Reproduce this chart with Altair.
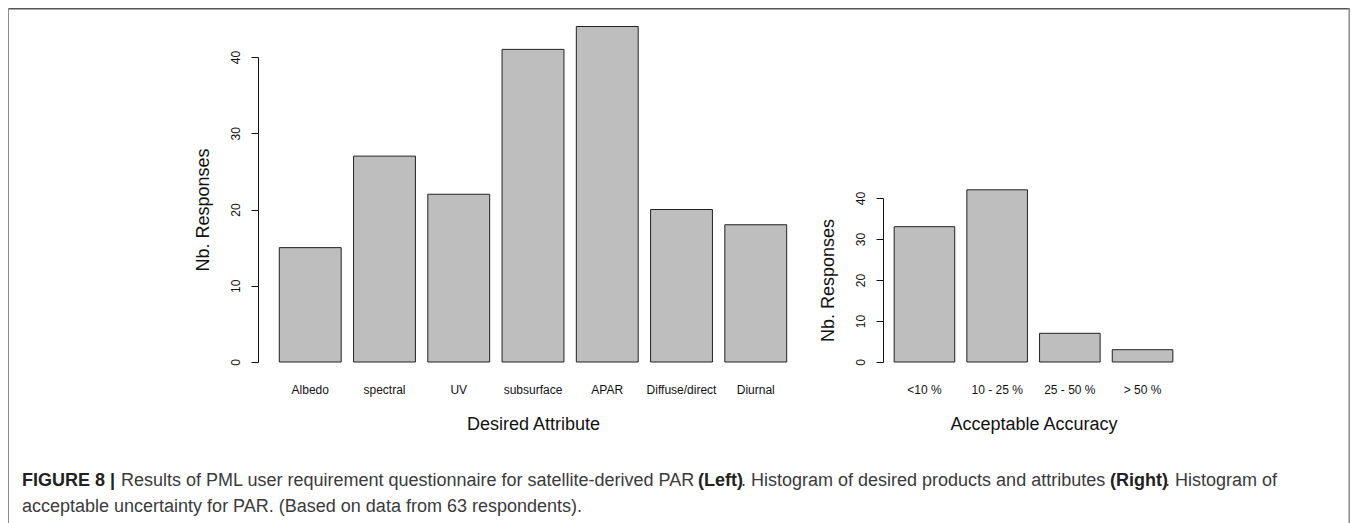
import altair as alt
import pandas as pd

# ---- data ----
attributes = ["Albedo", "spectral", "UV", "subsurface", "APAR", "Diffuse/direct", "Diurnal"]
attr_counts = [15, 27, 22, 41, 44, 20, 18]
accuracy = ["<10 %", "10 - 25 %", "25 - 50 %", "> 50 %"]
acc_counts = [33, 42, 7, 3]
y_ticks = [0, 10, 20, 30, 40]

cap_figure = "FIGURE 8 |"
cap_part1 = "Results of PML user requirement questionnaire for satellite-derived PAR"
cap_left = "(Left)"
cap_part2 = ". Histogram of desired products and attributes"
cap_right = "(Right)"
cap_part3 = ". Histogram of"
cap_line2 = "acceptable uncertainty for PAR. (Based on data from 63 respondents)."

W, H = 1342, 515
FONT = "Liberation Sans"
INK = "#111111"

left_df = pd.DataFrame({"attribute": attributes, "responses": attr_counts})
right_df = pd.DataFrame({"accuracy": accuracy, "responses": acc_counts})


def yaxis(offset):
    return alt.Axis(
        orient="left", offset=offset, values=y_ticks, grid=False,
        tickSize=7, tickColor=INK, domainColor=INK, tickWidth=1, domainWidth=1,
        labelAngle=270, labelAlign="center", labelBaseline="alphabetic",
        labelPadding=12, labelFontSize=12, labelFont=FONT, labelColor=INK,
        title="Nb. Responses", titleFont=FONT, titleFontSize=18,
        titleFontWeight="normal", titleColor=INK, titlePadding=17,
    )


def xaxis(title):
    return alt.Axis(
        orient="bottom", offset=354 - H, domain=False, ticks=False,
        labelAngle=0, labelPadding=22, labelFontSize=12, labelFont=FONT,
        labelColor=INK, labelOverlap=False, labelLimit=0,
        title=title, titleFont=FONT, titleFontSize=18,
        titleFontWeight="normal", titleColor=INK, titlePadding=20,
    )


left = alt.Chart(left_df).mark_bar(fill="#BEBEBE", stroke="#222222", strokeWidth=1).encode(
    x=alt.X("attribute:N", sort=attributes,
            scale=alt.Scale(range=[251, 799], paddingInner=1 / 6, paddingOuter=0.2733),
            axis=xaxis("Desired Attribute")),
    y=alt.Y("responses:Q", scale=alt.Scale(domain=[0, 40], range=[354, 49], nice=False),
            axis=yaxis(-250)),
)

right = alt.Chart(right_df).mark_bar(fill="#BEBEBE", stroke="#222222", strokeWidth=1).encode(
    x=alt.X("accuracy:N", sort=accuracy,
            scale=alt.Scale(range=[875, 1176], paddingInner=1 / 6, paddingOuter=0.1533),
            axis=xaxis("Acceptable Accuracy")),
    y=alt.Y("responses:Q", scale=alt.Scale(domain=[0, 40], range=[354, 190], nice=False),
            axis=yaxis(-875)),
)

one = pd.DataFrame({"k": [0]})
border_top = alt.Chart(one).mark_rule(color="#555555", strokeWidth=2).encode(
    x=alt.value(0), x2=alt.value(W), y=alt.value(0.5))
border_left = alt.Chart(one).mark_rule(color="#8a8a8a", strokeWidth=2).encode(
    x=alt.value(0), y=alt.value(0), y2=alt.value(H))
border_right = alt.Chart(one).mark_rule(color="#8a8a8a", strokeWidth=2).encode(
    x=alt.value(W - 0.5), y=alt.value(0), y2=alt.value(H))


def cap(text, x, y, bold):
    return alt.Chart(pd.DataFrame({"t": [text]})).mark_text(
        align="left", baseline="alphabetic", font=FONT, fontSize=18,
        fontWeight="bold" if bold else "normal",
        color="#222222" if bold else "#3a3a3a",
    ).encode(text="t:N", x=alt.value(x), y=alt.value(y))


captions = [
    cap(cap_figure, 14, 478, True),
    cap(cap_part1, 113, 478, False),
    cap(cap_left, 690, 478, True),
    cap(cap_part2, 733, 478, False),
    cap(cap_right, 1102, 478, True),
    cap(cap_part3, 1157, 478, False),
    cap(cap_line2, 14, 504, False),
]

chart = alt.layer(left, right, border_top, border_left, border_right, *captions).resolve_scale(
    x="independent", y="independent"
).properties(
    width=W, height=H, padding=0, autosize=alt.AutoSizeParams(type="none")
).configure_view(stroke=None).configure(font=FONT)

chart.save("out.html", embed_options={"renderer": "svg", "actions": False})
